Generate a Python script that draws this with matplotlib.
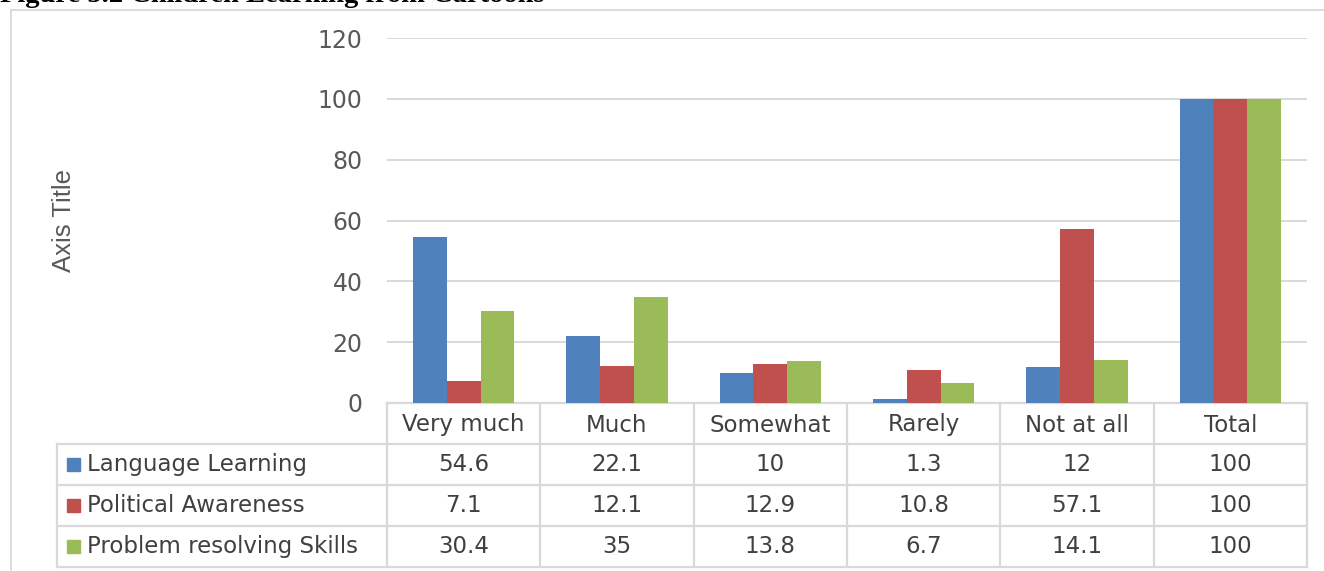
import matplotlib
matplotlib.use("Agg")
import matplotlib.pyplot as plt
import numpy as np

categories = ["Very much", "Much", "Somewhat", "Rarely", "Not at all", "Total"]
series_names = ["Language Learning", "Political Awareness", "Problem resolving Skills"]
language_learning = [54.6, 22.1, 10, 1.3, 12, 100]
political_awareness = [7.1, 12.1, 12.9, 10.8, 57.1, 100]
problem_resolving = [30.4, 35, 13.8, 6.7, 14.1, 100]
series_values = [language_learning, political_awareness, problem_resolving]
table_text = [["54.6", "22.1", "10", "1.3", "12", "100"],
              ["7.1", "12.1", "12.9", "10.8", "57.1", "100"],
              ["30.4", "35", "13.8", "6.7", "14.1", "100"]]
yticks = [0, 20, 40, 60, 80, 100, 120]
colors = ["#4F81BD", "#C0504D", "#9BBB59"]
title = "Figure 5.2 Children Learning from Cartoons"

W, H = 1324, 571
fig = plt.figure(figsize=(W / 100, H / 100), dpi=100)
fig.patch.set_facecolor("white")

def fx(px):
    return px / W

def fy(py):
    return 1 - py / H

grid_c = "#D9D9D9"
text_c = "#404040"
tick_c = "#595959"
FS = 16.5

# overlay axes in pixel coordinates
ov = fig.add_axes([0, 0, 1, 1])
ov.set_xlim(0, W)
ov.set_ylim(H, 0)
ov.axis("off")

# outer chart frame
ov.plot([11, 11], [10, H + 5], color=grid_c, lw=1.3, clip_on=False)
ov.plot([11, W + 5], [10, 10], color=grid_c, lw=1.3, clip_on=False)

# title (cropped at the top, as in the source image)
fig.text(0.0, fy(1.5), title, family="Liberation Serif", fontweight="bold",
         fontsize=20.5, va="baseline", ha="left", color="black")

# main plot axes
x0, x1 = 387, 1307
ytop, ybot = 38, 403
ax = fig.add_axes([fx(x0), fy(ybot), fx(x1) - fx(x0), fy(ytop) - fy(ybot)])
ax.set_facecolor("none")
n = len(categories)
x = np.arange(n)
bw = 0.22
for i, (vals, c) in enumerate(zip(series_values, colors)):
    ax.bar(x + (i - 1) * bw, vals, width=bw, color=c, edgecolor="none", zorder=3)
ax.set_xlim(-0.5, n - 0.5)
ax.set_ylim(0, 120)
ax.set_yticks(yticks)
ax.set_yticklabels([str(t) for t in yticks], fontsize=FS + 0.5, color=tick_c,
                   family="DejaVu Sans")
ax.tick_params(axis="y", length=0, pad=17.5)
ax.tick_params(axis="x", length=0, labelbottom=False)
ax.set_xticks([])
for s in ax.spines.values():
    s.set_visible(False)
for t in yticks[1:]:
    ax.axhline(t, color=grid_c, lw=1.4, zorder=1)

fig.text(fx(64), fy(220), "Axis Title", rotation=90, ha="center", va="center",
         fontsize=18.5, color=tick_c, family="Liberation Sans")

# data table
col_w = (x1 - x0) / n
col_edges = [x0 + k * col_w for k in range(n + 1)]
row_lines = [403, 444, 485, 526, 567]
left = 57
lw_t = 1.6
ov.plot([x0, x1], [row_lines[0], row_lines[0]], color=grid_c, lw=lw_t, zorder=4)
for yl in row_lines[1:]:
    ov.plot([left, x1], [yl, yl], color=grid_c, lw=lw_t, zorder=4)
for xe in col_edges:
    ov.plot([xe, xe], [row_lines[0], row_lines[-1]], color=grid_c, lw=lw_t, zorder=4)
ov.plot([left, left], [row_lines[1], row_lines[-1]], color=grid_c, lw=lw_t, zorder=4)

for j, cat in enumerate(categories):
    cx = (col_edges[j] + col_edges[j + 1]) / 2
    ov.text(cx, (row_lines[0] + row_lines[1]) / 2 + 1.5, cat, ha="center", va="center",
            fontsize=FS, color=text_c, family="DejaVu Sans")
for i, name in enumerate(series_names):
    cy = (row_lines[i + 1] + row_lines[i + 2]) / 2
    ov.add_patch(plt.Rectangle((67, cy - 6.5), 13, 13, color=colors[i], zorder=5))
    ov.text(87, cy, name, ha="left", va="center", fontsize=FS, color=text_c,
            family="DejaVu Sans")
    for j in range(n):
        cx = (col_edges[j] + col_edges[j + 1]) / 2
        ov.text(cx, cy, table_text[i][j], ha="center", va="center", fontsize=FS,
                color=text_c, family="DejaVu Sans")

fig.savefig("out.png", dpi=100, facecolor="white")
